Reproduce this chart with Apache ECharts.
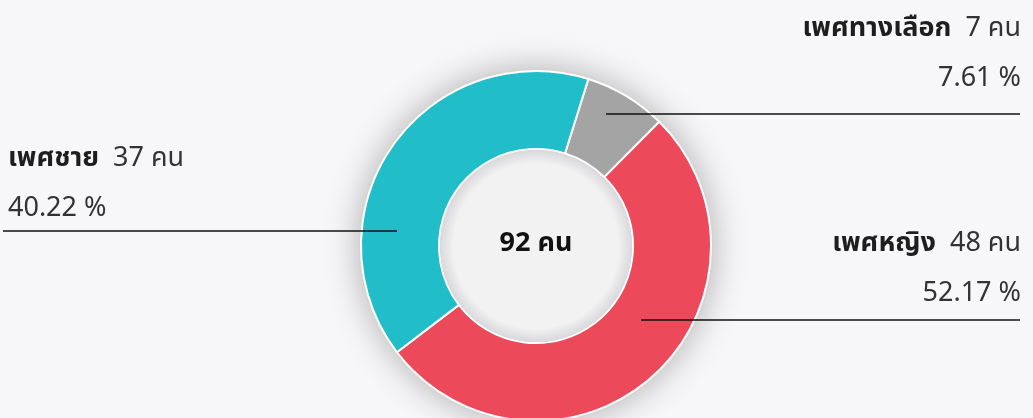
<!DOCTYPE html>
<html>
<head>
<meta charset="utf-8">
<script src="https://cdn.jsdelivr.net/npm/echarts@6/dist/echarts.min.js"></script>
<style>
html,body{margin:0;padding:0;background:#f7f7f9;}
#c{width:1033px;height:418px;}
</style>
</head>
<body>
<div id="c"></div>
<script>
// Data
const categories = ['เพศทางเลือก', 'เพศหญิง', 'เพศชาย'];
const values = [7, 48, 37];
const colors = ['#a4a4a4', '#ec4a5a', '#21bec9'];
const unit = 'คน';

// Label layout (positions only)
const labelPlace = [
  { x: 1021, y: 6,   align: 'right', line: [[606, 114], [800, 114], [1020, 114]] },
  { x: 1021, y: 221, align: 'right', line: [[641, 320], [800, 320], [1020, 320]] },
  { x: 8,    y: 136, align: 'left',  line: [[397, 231], [200, 231], [3, 231]] }
];

const FONT = "'Noto Sans Thai', 'Sarabun', 'Tahoma', 'Noto Sans', 'DejaVu Sans', sans-serif";
const total = values.reduce((a, b) => a + b, 0);
const CENTER = [536, 246];
const RING = [97, 175];

const chart = echarts.init(document.getElementById('c'));
chart.setOption({
  backgroundColor: '#f7f7f9',
  animation: false,
  series: [
    // shadow base
    {
      type: 'pie', center: CENTER, radius: RING, silent: true, z: 1,
      label: { show: false }, labelLine: { show: false },
      itemStyle: { color: '#ffffff', borderWidth: 0, shadowBlur: 36, shadowColor: 'rgba(0,0,0,0.32)' },
      data: [{ value: total, name: '' }]
    },
    // main ring
    {
      type: 'pie', center: CENTER, radius: RING, startAngle: 72.6, clockwise: true, silent: true, z: 2,
      itemStyle: { borderColor: '#ffffff', borderWidth: 2 },
      label: { show: false }, labelLine: { show: false },
      data: categories.map((c, i) => ({ name: c, value: values[i], itemStyle: { color: colors[i] } }))
    },
    // inner disc
    {
      type: 'pie', center: CENTER, radius: [0, 96], silent: true, z: 3,
      itemStyle: {
        color: {
          type: 'radial', x: 0.5, y: 0.5, r: 0.5,
          colorStops: [
            { offset: 0, color: '#f2f2f2' },
            { offset: 0.86, color: '#f2f2f2' },
            { offset: 0.93, color: '#e5e5e7' },
            { offset: 1, color: '#d9d9db' }
          ]
        }
      },
      label: {
        show: true, position: 'center', formatter: total + ' ' + unit,
        fontFamily: FONT, fontSize: 27, fontWeight: 'bold', color: '#111'
      },
      labelLine: { show: false },
      data: [{ value: total, name: 'total' }]
    },
    // label overlay (transparent slices, labels + lines on top)
    {
      type: 'pie', center: CENTER, radius: RING, startAngle: 72.6, clockwise: true, silent: true, z: 4,
      itemStyle: { color: 'rgba(0,0,0,0)', borderWidth: 0 },
      label: {
        show: true,
        formatter: p => '{b|' + p.name + '}{n|  ' + p.value + ' ' + unit + '}\n{n|' + p.percent.toFixed(2) + ' %}',
        rich: {
          b: { fontFamily: FONT, fontSize: 27, fontWeight: 'bold', color: '#1e1e1e', lineHeight: 50 },
          n: { fontFamily: FONT, fontSize: 27, color: '#333', lineHeight: 50 }
        }
      },
      labelLine: { show: true, lineStyle: { color: '#111', width: 1.3 } },
      labelLayout: function (params) {
        const L = labelPlace[params.dataIndex];
        return { x: L.x, y: L.y, align: L.align, verticalAlign: 'top', labelLinePoints: L.line };
      },
      data: categories.map((c, i) => ({ name: c, value: values[i] }))
    }
  ]
});
</script>
</body>
</html>
